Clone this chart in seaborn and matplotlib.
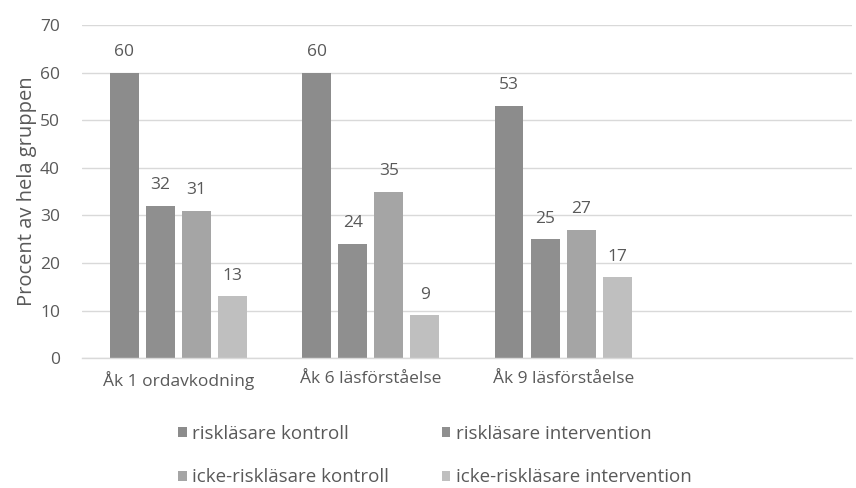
import matplotlib
matplotlib.use("Agg")
import matplotlib.pyplot as plt
import seaborn as sns
import pandas as pd

categories = ["Åk 1 ordavkodning", "Åk 6 läsförståelse", "Åk 9 läsförståelse"]
series = ["riskläsare kontroll", "riskläsare intervention",
          "icke-riskläsare kontroll", "icke-riskläsare intervention"]
values = {
    "riskläsare kontroll": [60, 60, 53],
    "riskläsare intervention": [32, 24, 25],
    "icke-riskläsare kontroll": [31, 35, 27],
    "icke-riskläsare intervention": [13, 9, 17],
}
colors = ["#8c8c8c", "#8f8f8f", "#a5a5a5", "#bfbfbf"]
y_ticks = [0, 10, 20, 30, 40, 50, 60, 70]
y_label = "Procent av hela gruppen"

rows = []
for s in series:
    for c, v in zip(categories, values[s]):
        rows.append({"kat": c, "serie": s, "värde": v})
df = pd.DataFrame(rows)

sns.set_theme(style="white")
plt.rcParams["font.family"] = ["Open Sans", "DejaVu Sans"]
txt = "#595959"
fs = 12.5

fig = plt.figure(figsize=(8.56, 4.88), dpi=100)
ax = fig.add_axes([0.096, 0.266, 0.899, 0.683])

order = categories + [" "]
sns.barplot(data=df, x="kat", y="värde", hue="serie", order=order,
            hue_order=series, palette=colors, width=0.75, gap=0.2,
            saturation=1, ax=ax, errorbar=None, edgecolor="none")

for cont in ax.containers:
    ax.bar_label(cont, fmt="%d", padding=9, color=txt, fontsize=fs)

ax.set_ylim(0, 70)
ax.set_yticks(y_ticks)
ax.yaxis.grid(True, color="#d9d9d9", linewidth=1)
ax.set_axisbelow(True)
for side in ["left", "right", "top"]:
    ax.spines[side].set_visible(False)
ax.spines["bottom"].set_color("#d9d9d9")
ax.spines["bottom"].set_linewidth(1)
ax.tick_params(axis="both", length=0, colors=txt, labelsize=fs)
ax.tick_params(axis="y", pad=16)
ax.tick_params(axis="x", pad=9)
ax.set_xlabel("")
ax.set_ylabel(y_label, color=txt, fontsize=14.5, labelpad=2)

handles, labels = ax.get_legend_handles_labels()
ax.get_legend().remove()
idx = [0, 2, 1, 3]
fig.legend([handles[i] for i in idx], [labels[i] for i in idx],
           loc="center", bbox_to_anchor=(0.508, 0.066), ncol=2,
           frameon=False, fontsize=13.5, labelcolor=txt,
           handlelength=0.45, handleheight=0.45, handletextpad=0.3,
           columnspacing=2.8, labelspacing=1.35)

fig.savefig("out.png", dpi=100)
